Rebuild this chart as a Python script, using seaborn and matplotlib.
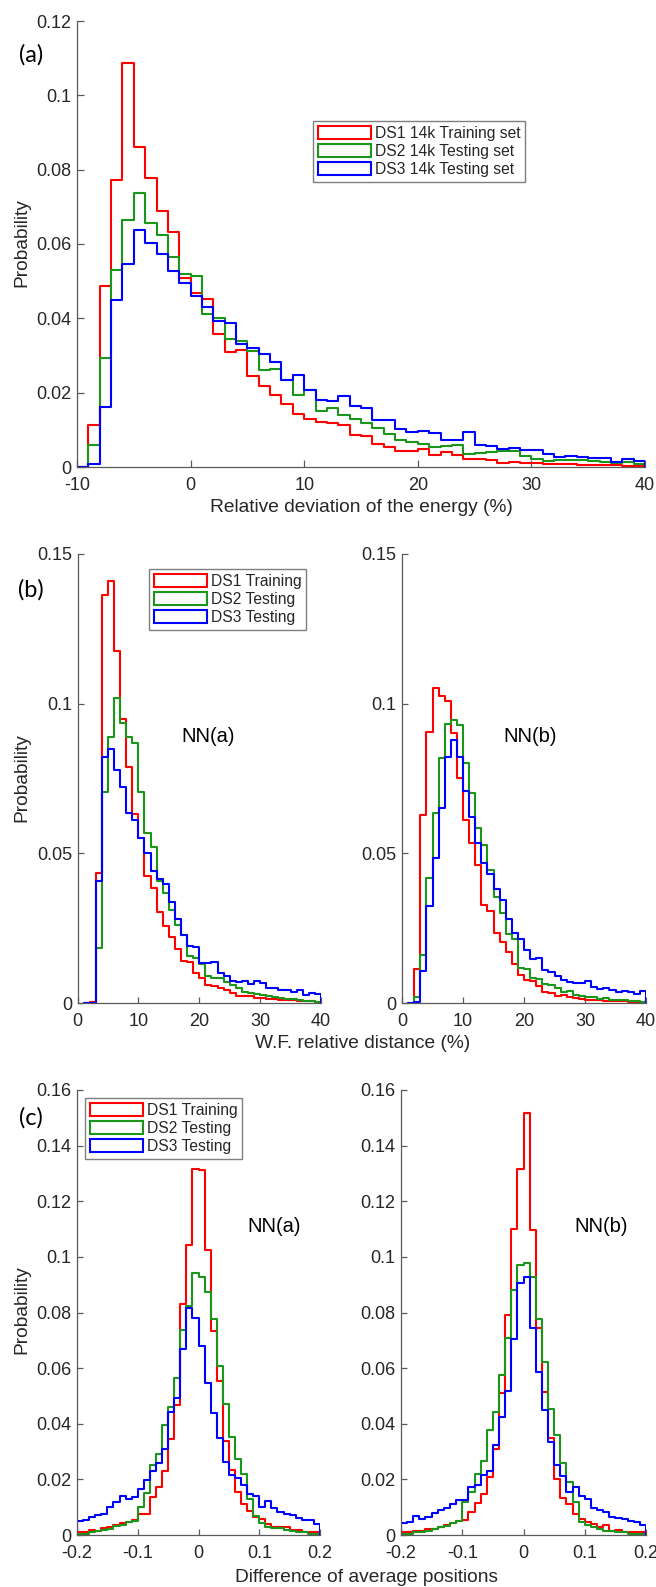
import numpy as np
import matplotlib
matplotlib.use("Agg")
import matplotlib.pyplot as plt
import seaborn as sns
from matplotlib.patches import Patch
from matplotlib.ticker import FuncFormatter

# ---- data (probabilities per bin) ----
series_names_a = ["DS1 14k Training set", "DS2 14k Testing set", "DS3 14k Testing set"]
series_names_bc = ["DS1 Training", "DS2 Testing", "DS3 Testing"]
series_colors = ["#ff0000", "#1a961a", "#0000ff"]

# (a) relative deviation of the energy, 1 % bins from -9 to 40
energy_edges = np.arange(-9, 41, 1.0)
energy_ds1 = [0.0112, 0.0487, 0.0773, 0.1088, 0.0861, 0.0778, 0.0688, 0.0631, 0.0509,
              0.0469, 0.0451, 0.0359, 0.0309, 0.0314, 0.0244, 0.0217, 0.0193, 0.0169, 0.0142, 0.0130, 0.0121,
              0.0118, 0.0112, 0.0085, 0.0083, 0.0063, 0.0054, 0.0043, 0.0043, 0.0049, 0.0031, 0.0040, 0.0031,
              0.0022, 0.0021, 0.0019, 0.0010, 0.0013, 0.0011, 0.0011, 0.0007, 0.0007, 0.0007, 0.0006, 0.0006,
              0.0005, 0.0005, 0.0002, 0.0002]
energy_ds2 = [0.0060, 0.0293, 0.0531, 0.0664, 0.0737, 0.0657, 0.0625, 0.0565, 0.0518,
              0.0514, 0.0411, 0.0401, 0.0345, 0.0339, 0.0311, 0.0262, 0.0265, 0.0233, 0.0195, 0.0208, 0.0150,
              0.0160, 0.0139, 0.0130, 0.0118, 0.0105, 0.0090, 0.0072, 0.0067, 0.0063, 0.0054, 0.0056, 0.0058,
              0.0036, 0.0038, 0.0040, 0.0042, 0.0043, 0.0030, 0.0022, 0.0016, 0.0020, 0.0020, 0.0018, 0.0016,
              0.0013, 0.0011, 0.0013, 0.0009]
energy_ds3 = [0.0009, 0.0161, 0.0450, 0.0545, 0.0639, 0.0604, 0.0572, 0.0527, 0.0495,
              0.0460, 0.0430, 0.0393, 0.0387, 0.0330, 0.0321, 0.0303, 0.0283, 0.0235, 0.0247, 0.0208, 0.0181,
              0.0177, 0.0190, 0.0164, 0.0160, 0.0126, 0.0126, 0.0101, 0.0094, 0.0096, 0.0092, 0.0072, 0.0072,
              0.0094, 0.0060, 0.0056, 0.0049, 0.0051, 0.0045, 0.0047, 0.0034, 0.0027, 0.0029, 0.0027, 0.0025,
              0.0025, 0.0013, 0.0022, 0.0016]

# (b) W.F. relative distance, 1 % bins from 2 to 40
wf_edges = np.arange(2, 41, 1.0)
wf_a_ds1 = [0.0005, 0.0434, 0.1363, 0.1410, 0.1176, 0.0948, 0.0790, 0.0632, 0.0551, 0.0425, 0.0384, 0.0303,
            0.0256, 0.0222, 0.0180, 0.0141, 0.0136, 0.0100, 0.0083, 0.0061, 0.0058, 0.0050, 0.0045, 0.0033,
            0.0025, 0.0024, 0.0022, 0.0018, 0.0017, 0.0014, 0.0013, 0.0011, 0.0009, 0.0009, 0.0008, 0.0007,
            0.0006, 0.0005]
wf_a_ds2 = [0.0000, 0.0184, 0.0704, 0.0890, 0.1018, 0.0935, 0.0888, 0.0868, 0.0704, 0.0567, 0.0521, 0.0406,
            0.0367, 0.0312, 0.0261, 0.0228, 0.0156, 0.0150, 0.0130, 0.0090, 0.0082, 0.0085, 0.0070, 0.0060,
            0.0050, 0.0037, 0.0033, 0.0030, 0.0027, 0.0024, 0.0020, 0.0018, 0.0015, 0.0012, 0.0010, 0.0008,
            0.0006, 0.0004]
wf_a_ds3 = [0.0000, 0.0408, 0.0821, 0.0848, 0.0777, 0.0723, 0.0636, 0.0612, 0.0551, 0.0501, 0.0440, 0.0415,
            0.0397, 0.0336, 0.0280, 0.0228, 0.0189, 0.0186, 0.0134, 0.0134, 0.0136, 0.0100, 0.0089, 0.0072,
            0.0069, 0.0072, 0.0063, 0.0075, 0.0067, 0.0050, 0.0050, 0.0042, 0.0045, 0.0036, 0.0045, 0.0028,
            0.0033, 0.0031]
wf_b_ds1 = [0.0113, 0.0629, 0.0907, 0.1052, 0.1024, 0.1009, 0.0901, 0.0751, 0.0610, 0.0534, 0.0462, 0.0328,
            0.0306, 0.0234, 0.0203, 0.0169, 0.0130, 0.0095, 0.0078, 0.0072, 0.0058, 0.0036, 0.0033, 0.0022,
            0.0028, 0.0020, 0.0017, 0.0013, 0.0011, 0.0010, 0.0009, 0.0008, 0.0008, 0.0007, 0.0006, 0.0005,
            0.0004, 0.0003]
wf_b_ds2 = [0.0020, 0.0161, 0.0417, 0.0634, 0.0818, 0.0932, 0.0944, 0.0929, 0.0801, 0.0703, 0.0584, 0.0529,
            0.0443, 0.0354, 0.0300, 0.0231, 0.0214, 0.0117, 0.0113, 0.0083, 0.0080, 0.0065, 0.0061, 0.0050,
            0.0036, 0.0039, 0.0028, 0.0024, 0.0020, 0.0020, 0.0013, 0.0017, 0.0011, 0.0011, 0.0009, 0.0008,
            0.0006, 0.0004]
wf_b_ds3 = [0.0005, 0.0106, 0.0323, 0.0484, 0.0651, 0.0823, 0.0879, 0.0821, 0.0707, 0.0623, 0.0536, 0.0467,
            0.0432, 0.0381, 0.0343, 0.0280, 0.0234, 0.0214, 0.0178, 0.0147, 0.0150, 0.0109, 0.0102, 0.0091,
            0.0078, 0.0069, 0.0067, 0.0067, 0.0072, 0.0053, 0.0047, 0.0050, 0.0045, 0.0036, 0.0039, 0.0036,
            0.0031, 0.0039]

# (c) difference of average positions, 0.01 bins from -0.2 to 0.2
pos_edges = np.linspace(-0.2, 0.2, 41)
pos_a_ds1 = [0.0009, 0.0012, 0.0017, 0.0015, 0.0025, 0.0030, 0.0037, 0.0042, 0.0046, 0.0055,
             0.0077, 0.0075, 0.0136, 0.0171, 0.0231, 0.0346, 0.0467, 0.0832, 0.1042, 0.1317,
             0.1313, 0.1023, 0.0733, 0.0554, 0.0339, 0.0233, 0.0155, 0.0111, 0.0087, 0.0065,
             0.0059, 0.0040, 0.0027, 0.0030, 0.0027, 0.0017, 0.0017, 0.0012, 0.0009, 0.0009]
pos_a_ds2 = [0.0002, 0.0005, 0.0009, 0.0015, 0.0017, 0.0021, 0.0034, 0.0037, 0.0046, 0.0052,
             0.0102, 0.0152, 0.0250, 0.0292, 0.0396, 0.0462, 0.0564, 0.0736, 0.0824, 0.0941,
             0.0929, 0.0874, 0.0776, 0.0608, 0.0471, 0.0354, 0.0275, 0.0221, 0.0130, 0.0067,
             0.0042, 0.0027, 0.0025, 0.0025, 0.0017, 0.0015, 0.0012, 0.0009, 0.0005, 0.0005]
pos_a_ds3 = [0.0052, 0.0055, 0.0065, 0.0071, 0.0077, 0.0102, 0.0117, 0.0142, 0.0130, 0.0137,
             0.0165, 0.0196, 0.0230, 0.0258, 0.0308, 0.0442, 0.0492, 0.0668, 0.0816, 0.0780,
             0.0679, 0.0545, 0.0437, 0.0349, 0.0261, 0.0215, 0.0205, 0.0180, 0.0146, 0.0142,
             0.0102, 0.0121, 0.0096, 0.0084, 0.0077, 0.0071, 0.0062, 0.0055, 0.0055, 0.0040]
pos_b_ds1 = [0.0009, 0.0009, 0.0015, 0.0015, 0.0021, 0.0021, 0.0027, 0.0037, 0.0042, 0.0052,
             0.0055, 0.0084, 0.0115, 0.0146, 0.0208, 0.0308, 0.0512, 0.0791, 0.1101, 0.1317,
             0.1516, 0.1097, 0.0745, 0.0514, 0.0348, 0.0202, 0.0134, 0.0111, 0.0077, 0.0059,
             0.0046, 0.0040, 0.0030, 0.0037, 0.0015, 0.0017, 0.0012, 0.0012, 0.0012, 0.0009]
pos_b_ds2 = [0.0005, 0.0005, 0.0009, 0.0012, 0.0015, 0.0021, 0.0027, 0.0034, 0.0042, 0.0052,
             0.0117, 0.0155, 0.0221, 0.0267, 0.0377, 0.0442, 0.0574, 0.0708, 0.0882, 0.0970,
             0.0978, 0.0926, 0.0776, 0.0623, 0.0452, 0.0358, 0.0258, 0.0190, 0.0117, 0.0046,
             0.0037, 0.0027, 0.0021, 0.0015, 0.0015, 0.0012, 0.0009, 0.0005, 0.0005, 0.0002]
pos_b_ds3 = [0.0042, 0.0046, 0.0067, 0.0059, 0.0065, 0.0080, 0.0090, 0.0096, 0.0112, 0.0127,
             0.0125, 0.0171, 0.0180, 0.0215, 0.0230, 0.0324, 0.0424, 0.0517, 0.0705, 0.0905,
             0.0926, 0.0745, 0.0587, 0.0448, 0.0333, 0.0250, 0.0211, 0.0155, 0.0171, 0.0140,
             0.0130, 0.0096, 0.0090, 0.0084, 0.0065, 0.0062, 0.0059, 0.0052, 0.0046, 0.0037]

# ---- style ----
sns.set_theme(style="ticks")
plt.rcParams["font.family"] = ["Liberation Sans", "DejaVu Sans"]
TXT = "#262626"
AXC = "#5a5a5a"
TICK_FS = 13
LABEL_FS = 13.75
LEG_FS = 11.25

W, H = 656, 1587
fig = plt.figure(figsize=(W / 100, H / 100), dpi=100)


def px_axes(x0, x1, y0, y1):
    return fig.add_axes([x0 / W, 1 - y1 / H, (x1 - x0) / W, (y1 - y0) / H])


def stairs(ax, edges, probs, color):
    # pad one empty bin on each side so the outline drops to zero like MATLAB 'stairs'
    w = edges[1] - edges[0]
    padded = np.concatenate([[edges[0] - w], edges, [edges[-1] + w]])
    weights = np.concatenate([[0.0], probs, [0.0]])
    centers = (padded[:-1] + padded[1:]) / 2
    sns.histplot(x=centers, weights=weights, bins=padded.tolist(), element="step", fill=False,
                 color=color, linewidth=1.5, ax=ax)


def style(ax, xlim, ylim, xticks, yticks, ticklen):
    ax.set(xlabel="", ylabel="")
    ax.set_xlim(*xlim)
    ax.set_ylim(*ylim)
    ax.set_xticks(xticks)
    ax.set_yticks(yticks)
    fmt = FuncFormatter(lambda v, _: f"{v:g}")
    ax.xaxis.set_major_formatter(fmt)
    ax.yaxis.set_major_formatter(fmt)
    for s in ["top", "right"]:
        ax.spines[s].set_visible(False)
    for s in ["left", "bottom"]:
        ax.spines[s].set_color(AXC)
        ax.spines[s].set_linewidth(0.9)
    ax.tick_params(direction="in", length=ticklen, width=0.9, color=AXC,
                   labelsize=TICK_FS, labelcolor=TXT)
    ax.tick_params(axis="x", pad=7)
    ax.tick_params(axis="y", pad=4)


def legend(ax, names, x0, y0):
    handles = [Patch(facecolor="white", edgecolor=c, linewidth=1.5, label=n)
               for n, c in zip(names, series_colors)]
    leg = ax.legend(handles=handles, loc="upper left", bbox_to_anchor=(x0 / W, 1 - y0 / H),
                    bbox_transform=fig.transFigure, borderaxespad=0, fontsize=LEG_FS,
                    handlelength=3.4, handleheight=0.85, handletextpad=0.25,
                    labelspacing=0.2, borderpad=0.3, fancybox=False, framealpha=1)
    leg.get_frame().set_edgecolor("#7f7f7f")
    leg.get_frame().set_linewidth(1.0)
    for t in leg.get_texts():
        t.set_color(TXT)


# ---- (a) ----
ax_a = px_axes(77, 645, 21, 467)
for vals, c in zip([energy_ds1, energy_ds2, energy_ds3], series_colors):
    stairs(ax_a, energy_edges, vals, c)
style(ax_a, (-10, 40), (0, 0.12), np.arange(-10, 41, 10), np.linspace(0, 0.12, 7), 5)
legend(ax_a, series_names_a, 313, 121)

# ---- (b) ----
ax_b1 = px_axes(77.5, 321, 554, 1003)
ax_b2 = px_axes(402, 646, 554, 1003)
for ax, group in [(ax_b1, [wf_a_ds1, wf_a_ds2, wf_a_ds3]), (ax_b2, [wf_b_ds1, wf_b_ds2, wf_b_ds3])]:
    for vals, c in zip(group, series_colors):
        stairs(ax, wf_edges, vals, c)
    style(ax, (0, 40), (0, 0.15), np.arange(0, 41, 10), [0, 0.05, 0.1, 0.15], 4)
legend(ax_b1, series_names_bc, 149, 569)
ax_b1.text(21.4, 0.089, "NN(a)", fontsize=14.5, color="black", ha="center", va="center")
ax_b2.text(21.0, 0.089, "NN(b)", fontsize=14.5, color="black", ha="center", va="center")

# ---- (c) ----
ax_c1 = px_axes(77, 320, 1090, 1535)
ax_c2 = px_axes(401, 646, 1090, 1535)
for ax, group in [(ax_c1, [pos_a_ds1, pos_a_ds2, pos_a_ds3]), (ax_c2, [pos_b_ds1, pos_b_ds2, pos_b_ds3])]:
    for vals, c in zip(group, series_colors):
        stairs(ax, pos_edges, vals, c)
    style(ax, (-0.2, 0.2), (0, 0.16), [-0.2, -0.1, 0, 0.1, 0.2], np.linspace(0, 0.16, 9), 4)
legend(ax_c1, series_names_bc, 85, 1098)
ax_c1.text(0.124, 0.111, "NN(a)", fontsize=14.5, color="black", ha="center", va="center")
ax_c2.text(0.127, 0.111, "NN(b)", fontsize=14.5, color="black", ha="center", va="center")

# ---- labels ----
for y in [243, 778, 1310]:
    fig.text(22 / W, 1 - y / H, "Probability", rotation=90, ha="center", va="center",
             fontsize=LABEL_FS, color=TXT)
fig.text(361 / W, 1 - 508 / H, "Relative deviation of the energy (%)", ha="center", va="center",
         fontsize=LABEL_FS, color=TXT)
fig.text(363 / W, 1 - 1043 / H, "W.F. relative distance (%)", ha="center", va="center",
         fontsize=LABEL_FS, color=TXT)
fig.text(366 / W, 1 - 1577 / H, "Difference of average positions", ha="center", va="center",
         fontsize=LABEL_FS, color=TXT)
for lab, y in [("(a)", 55), ("(b)", 590), ("(c)", 1118)]:
    fig.text(31 / W, 1 - y / H, lab, ha="center", va="center", fontsize=17,
             family=["Lato", "DejaVu Sans"], color="black")

fig.savefig("out.png", dpi=100)
